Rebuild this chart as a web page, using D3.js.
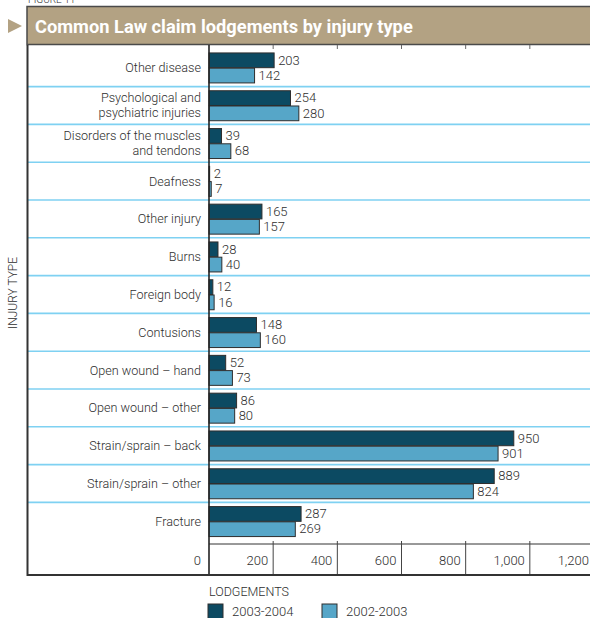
<!DOCTYPE html>
<html>
<head>
<meta charset="utf-8">
<script src="https://cdn.jsdelivr.net/npm/d3@7"></script>
<style>
  html, body { margin: 0; padding: 0; background: #fff; }
  svg { display: block; font-family: Roboto, "DejaVu Sans", sans-serif; font-weight: 300; }
</style>
</head>
<body>
<svg id="chart" width="590" height="618"></svg>
<script>
// Injury categories, top to bottom; "\n" splits a label over two lines
const categories = [
  "Other disease",
  "Psychological and\npsychiatric injuries",
  "Disorders of the muscles\nand tendons",
  "Deafness",
  "Other injury",
  "Burns",
  "Foreign body",
  "Contusions",
  "Open wound \u2013 hand",
  "Open wound \u2013 other",
  "Strain/sprain \u2013 back",
  "Strain/sprain \u2013 other",
  "Fracture"
];
const seriesNames = ["2003-2004", "2002-2003"];
const lodgements2003_04 = [203, 254, 39, 2, 165, 28, 12, 148, 52, 86, 950, 889, 287];
const lodgements2002_03 = [142, 280, 68, 7, 157, 40, 16, 160, 73, 80, 901, 824, 269];
const xTicks = [0, 200, 400, 600, 800, 1000, 1200];

const seriesValues = [lodgements2003_04, lodgements2002_03];
const colors = { "2003-2004": "#0c4a62", "2002-2003": "#56a6c8" };

const svg = d3.select("#chart");
const W = 590;
const frameLeft = 27, frameTop = 45, frameBottom = 575;
const plotLeft = 209, plotBottom = 544;
const textColor = "#2e2e2e";

const x = d3.scaleLinear().domain([0, 1200]).range([plotLeft, 594]);
const y = d3.scaleBand().domain(categories).range([frameTop, plotBottom])
  .paddingInner(0).paddingOuter(0.1);
const ySub = d3.scaleBand().domain(seriesNames).range([0, y.bandwidth()])
  .paddingInner(0).paddingOuter(0.24);

// "FIGURE" caption peeking in above the title bar
svg.append("text").attr("x", 28).attr("y", 3)
  .attr("font-size", 10).attr("fill", textColor).text("FIGURE 11");

// Title bar with arrow marker
svg.append("path")
  .attr("d", "M8,19 L22,26 L8,33 Z")
  .attr("fill", "#b3a283");
svg.append("rect")
  .attr("x", frameLeft).attr("y", 6.5).attr("width", W + 10).attr("height", 38)
  .attr("fill", "#b3a283").attr("stroke", "#4a4a4a").attr("stroke-width", 1.5);
const title = svg.append("text")
  .attr("x", 35).attr("y", 26).attr("dominant-baseline", "central")
  .attr("font-size", 17).attr("font-weight", 700).attr("fill", "#fff")
  .text("Common Law claim lodgements by injury type");
const tl = title.node().getComputedTextLength();
if (tl > 0) title.attr("font-size", 17 * 378 / tl);

// Row separators between categories
const boundaries = categories.slice(1).map(c => y(c) - (y.step() - y.bandwidth()) / 2);
svg.append("g").selectAll("line").data(boundaries).join("line")
  .attr("x1", frameLeft).attr("x2", W)
  .attr("y1", d => d).attr("y2", d => d)
  .attr("stroke", "#7fd1f2").attr("stroke-width", 1.6);

// Short ticks along the top edge
svg.append("g").selectAll("line").data(xTicks.slice(1, -1)).join("line")
  .attr("x1", d => x(d)).attr("x2", d => x(d))
  .attr("y1", frameTop).attr("y2", frameTop + 4)
  .attr("stroke", "#666").attr("stroke-width", 1);

// Category labels
const catG = svg.append("g");
categories.forEach(c => {
  const lines = c.split("\n");
  const cy = y(c) + y.bandwidth() / 2;
  const t = catG.append("text")
    .attr("text-anchor", "end").attr("font-size", 12.6).attr("fill", textColor);
  lines.forEach((ln, i) => {
    t.append("tspan").attr("x", 201)
      .attr("y", cy + (i - (lines.length - 1) / 2) * 15)
      .attr("dominant-baseline", "central").text(ln);
  });
});

// Bars and value labels
const rows = categories.map((c, i) => ({ c, vals: seriesNames.map((s, k) => ({ s, v: seriesValues[k][i] })) }));
const rowG = svg.append("g").selectAll("g").data(rows).join("g")
  .attr("transform", d => `translate(0,${y(d.c)})`);
rowG.selectAll("rect").data(d => d.vals).join("rect")
  .attr("x", x(0)).attr("y", d => ySub(d.s) + 0.5)
  .attr("width", d => x(d.v) - x(0)).attr("height", ySub.bandwidth() - 0.5)
  .attr("fill", d => colors[d.s]).attr("stroke", "#2e2e2e").attr("stroke-width", 1);
rowG.selectAll("text").data(d => d.vals).join("text")
  .attr("x", d => x(d.v) + 4).attr("y", d => ySub(d.s) + ySub.bandwidth() / 2)
  .attr("dominant-baseline", "central").attr("font-size", 13).attr("fill", textColor)
  .text(d => d3.format(",")(d.v));

// X axis band at the bottom
svg.append("line").attr("x1", plotLeft).attr("x2", W)
  .attr("y1", plotBottom).attr("y2", plotBottom)
  .attr("stroke", "#333").attr("stroke-width", 1);
svg.append("g").selectAll("line").data(xTicks.slice(1)).join("line")
  .attr("x1", d => x(d)).attr("x2", d => x(d))
  .attr("y1", plotBottom - 3).attr("y2", frameBottom)
  .attr("stroke", "#444").attr("stroke-width", 1);
svg.append("g").selectAll("text").data(xTicks).join("text")
  .attr("x", d => x(d) - (d === 0 ? 8 : 5)).attr("y", 560)
  .attr("text-anchor", "end").attr("dominant-baseline", "central")
  .attr("font-size", 13).attr("fill", textColor)
  .text(d => d3.format(",")(d));

// Frame and value axis line
svg.append("line").attr("x1", plotLeft).attr("x2", plotLeft)
  .attr("y1", frameTop).attr("y2", frameBottom)
  .attr("stroke", "#222").attr("stroke-width", 1.6);
svg.append("line").attr("x1", frameLeft + 0.5).attr("x2", frameLeft + 0.5)
  .attr("y1", frameTop).attr("y2", frameBottom + 1)
  .attr("stroke", "#333").attr("stroke-width", 2);
svg.append("line").attr("x1", frameLeft).attr("x2", W)
  .attr("y1", frameBottom).attr("y2", frameBottom)
  .attr("stroke", "#333").attr("stroke-width", 2);

// Axis titles
svg.append("text")
  .attr("transform", "translate(13,293) rotate(-90)")
  .attr("text-anchor", "middle").attr("dominant-baseline", "central")
  .attr("font-size", 12).attr("fill", textColor).text("INJURY TYPE");
svg.append("text").attr("x", 209).attr("y", 591)
  .attr("dominant-baseline", "central").attr("font-size", 12.5)
  .attr("fill", textColor).text("LODGEMENTS");

// Legend
const legendX = [208, 322];
const lg = svg.append("g").selectAll("g").data(seriesNames).join("g")
  .attr("transform", (d, i) => `translate(${legendX[i]},604)`);
lg.append("rect").attr("width", 15).attr("height", 15)
  .attr("fill", d => colors[d]).attr("stroke", "#2e2e2e").attr("stroke-width", 1);
lg.append("text").attr("x", 24).attr("y", 7)
  .attr("dominant-baseline", "central").attr("font-size", 13)
  .attr("fill", textColor).text(d => d);
</script>
</body>
</html>
